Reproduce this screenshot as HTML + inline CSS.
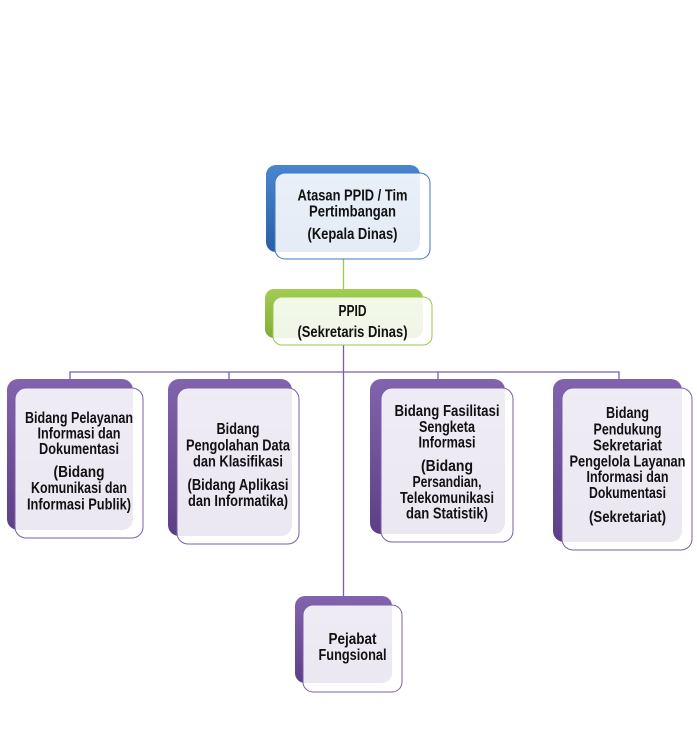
<!DOCTYPE html>
<html><head><meta charset="utf-8"><style>
html,body{margin:0;padding:0;background:#fff;}
svg{display:block;}
text{font-family:"Liberation Sans Narrow","Liberation Sans",sans-serif;font-weight:bold;font-size:15.5px;fill:#111;}
</style></head><body>
<svg width="697" height="746" viewBox="0 0 697 746" xmlns="http://www.w3.org/2000/svg">
<defs>
<linearGradient id="gb" x1="0" y1="0" x2="0" y2="1"><stop offset="0" stop-color="#4a86d0"/><stop offset="1" stop-color="#2a5ea6"/></linearGradient>
<linearGradient id="gg" x1="0" y1="0" x2="0" y2="1"><stop offset="0" stop-color="#a2cd52"/><stop offset="1" stop-color="#82ad38"/></linearGradient>
<linearGradient id="gp" x1="0" y1="0" x2="0" y2="1"><stop offset="0" stop-color="#8263ad"/><stop offset="1" stop-color="#5d3f88"/></linearGradient>
</defs>

<!-- connectors -->
<line x1="343.5" y1="259" x2="343.5" y2="297" stroke="#9bc94a" stroke-width="1.3"/>
<line x1="343.5" y1="345" x2="343.5" y2="605" stroke="#7b5ea7" stroke-width="1.3"/>
<polyline points="70,388 70,372 619,372 619,388" fill="none" stroke="#7b5ea7" stroke-width="1.3"/>
<line x1="229" y1="372" x2="229" y2="388" stroke="#7b5ea7" stroke-width="1.3"/>
<line x1="438" y1="372" x2="438" y2="388" stroke="#7b5ea7" stroke-width="1.3"/>

<!-- top box -->
<rect x="266" y="165" width="154" height="87" rx="10" fill="url(#gb)"/>
<rect x="275" y="173" width="155" height="86" rx="10" fill="rgba(255,255,255,0.88)" stroke="#3d79c4" stroke-width="1"/>
<text x="352.5" y="200.5" text-anchor="middle" textLength="110" lengthAdjust="spacingAndGlyphs">Atasan PPID / Tim</text>
<text x="352.5" y="216.5" text-anchor="middle" textLength="87" lengthAdjust="spacingAndGlyphs">Pertimbangan</text>
<text x="352.5" y="239" text-anchor="middle" textLength="90" lengthAdjust="spacingAndGlyphs">(Kepala Dinas)</text>

<!-- PPID -->
<rect x="265" y="289" width="158" height="49" rx="9" fill="url(#gg)"/>
<rect x="273" y="297" width="159" height="48" rx="9" fill="rgba(255,255,255,0.88)" stroke="#9bc94a" stroke-width="1"/>
<text x="352.5" y="316" text-anchor="middle" textLength="28" lengthAdjust="spacingAndGlyphs">PPID</text>
<text x="352.5" y="337" text-anchor="middle" textLength="110" lengthAdjust="spacingAndGlyphs">(Sekretaris Dinas)</text>

<!-- Box 1 -->
<rect x="7" y="379" width="126" height="151" rx="11" fill="url(#gp)"/>
<rect x="15" y="388" width="128" height="150" rx="11" fill="rgba(255,255,255,0.88)" stroke="#7b5ea7" stroke-width="1"/>
<text x="79" y="423" text-anchor="middle" textLength="108" lengthAdjust="spacingAndGlyphs">Bidang Pelayanan</text>
<text x="79" y="438.5" text-anchor="middle" textLength="83" lengthAdjust="spacingAndGlyphs">Informasi dan</text>
<text x="79" y="454" text-anchor="middle" textLength="80" lengthAdjust="spacingAndGlyphs">Dokumentasi</text>
<text x="79" y="477" text-anchor="middle" textLength="51" lengthAdjust="spacingAndGlyphs">(Bidang</text>
<text x="79" y="493" text-anchor="middle" textLength="96" lengthAdjust="spacingAndGlyphs">Komunikasi dan</text>
<text x="79" y="509.5" text-anchor="middle" textLength="104" lengthAdjust="spacingAndGlyphs">Informasi Publik)</text>

<!-- Box 2 -->
<rect x="168" y="379" width="124" height="157" rx="11" fill="url(#gp)"/>
<rect x="177" y="388" width="122" height="156" rx="11" fill="rgba(255,255,255,0.88)" stroke="#7b5ea7" stroke-width="1"/>
<text x="238" y="434" text-anchor="middle" textLength="43" lengthAdjust="spacingAndGlyphs">Bidang</text>
<text x="238" y="450.5" text-anchor="middle" textLength="104" lengthAdjust="spacingAndGlyphs">Pengolahan Data</text>
<text x="238" y="466.5" text-anchor="middle" textLength="90" lengthAdjust="spacingAndGlyphs">dan Klasifikasi</text>
<text x="238" y="490" text-anchor="middle" textLength="101" lengthAdjust="spacingAndGlyphs">(Bidang Aplikasi</text>
<text x="238" y="506" text-anchor="middle" textLength="100" lengthAdjust="spacingAndGlyphs">dan Informatika)</text>

<!-- Box 3 -->
<rect x="370" y="379" width="135" height="155" rx="11" fill="url(#gp)"/>
<rect x="381" y="388" width="132" height="154" rx="11" fill="rgba(255,255,255,0.88)" stroke="#7b5ea7" stroke-width="1"/>
<text x="447" y="416" text-anchor="middle" textLength="105" lengthAdjust="spacingAndGlyphs">Bidang Fasilitasi</text>
<text x="447" y="432" text-anchor="middle" textLength="56" lengthAdjust="spacingAndGlyphs">Sengketa</text>
<text x="447" y="447.5" text-anchor="middle" textLength="57" lengthAdjust="spacingAndGlyphs">Informasi</text>
<text x="447" y="471" text-anchor="middle" textLength="52" lengthAdjust="spacingAndGlyphs">(Bidang</text>
<text x="447" y="487" text-anchor="middle" textLength="69" lengthAdjust="spacingAndGlyphs">Persandian,</text>
<text x="447" y="503" text-anchor="middle" textLength="94" lengthAdjust="spacingAndGlyphs">Telekomunikasi</text>
<text x="447" y="518.5" text-anchor="middle" textLength="82" lengthAdjust="spacingAndGlyphs">dan Statistik)</text>

<!-- Box 4 -->
<rect x="553" y="379" width="129" height="163" rx="11" fill="url(#gp)"/>
<rect x="562" y="388" width="130" height="162" rx="11" fill="rgba(255,255,255,0.88)" stroke="#7b5ea7" stroke-width="1"/>
<text x="627.5" y="418" text-anchor="middle" textLength="43" lengthAdjust="spacingAndGlyphs">Bidang</text>
<text x="627.5" y="434.5" text-anchor="middle" textLength="68" lengthAdjust="spacingAndGlyphs">Pendukung</text>
<text x="627.5" y="450.5" text-anchor="middle" textLength="69" lengthAdjust="spacingAndGlyphs">Sekretariat</text>
<text x="627.5" y="466.5" text-anchor="middle" textLength="116" lengthAdjust="spacingAndGlyphs">Pengelola Layanan</text>
<text x="627.5" y="482" text-anchor="middle" textLength="82" lengthAdjust="spacingAndGlyphs">Informasi dan</text>
<text x="627.5" y="498" text-anchor="middle" textLength="77" lengthAdjust="spacingAndGlyphs">Dokumentasi</text>
<text x="627.5" y="522" text-anchor="middle" textLength="77" lengthAdjust="spacingAndGlyphs">(Sekretariat)</text>

<!-- Pejabat -->
<rect x="295" y="596" width="97" height="87" rx="10" fill="url(#gp)"/>
<rect x="303" y="605" width="99" height="87" rx="10" fill="rgba(255,255,255,0.88)" stroke="#7b5ea7" stroke-width="1"/>
<text x="352.5" y="644" text-anchor="middle" textLength="48" lengthAdjust="spacingAndGlyphs">Pejabat</text>
<text x="352.5" y="660" text-anchor="middle" textLength="68" lengthAdjust="spacingAndGlyphs">Fungsional</text>
</svg>
</body></html>
